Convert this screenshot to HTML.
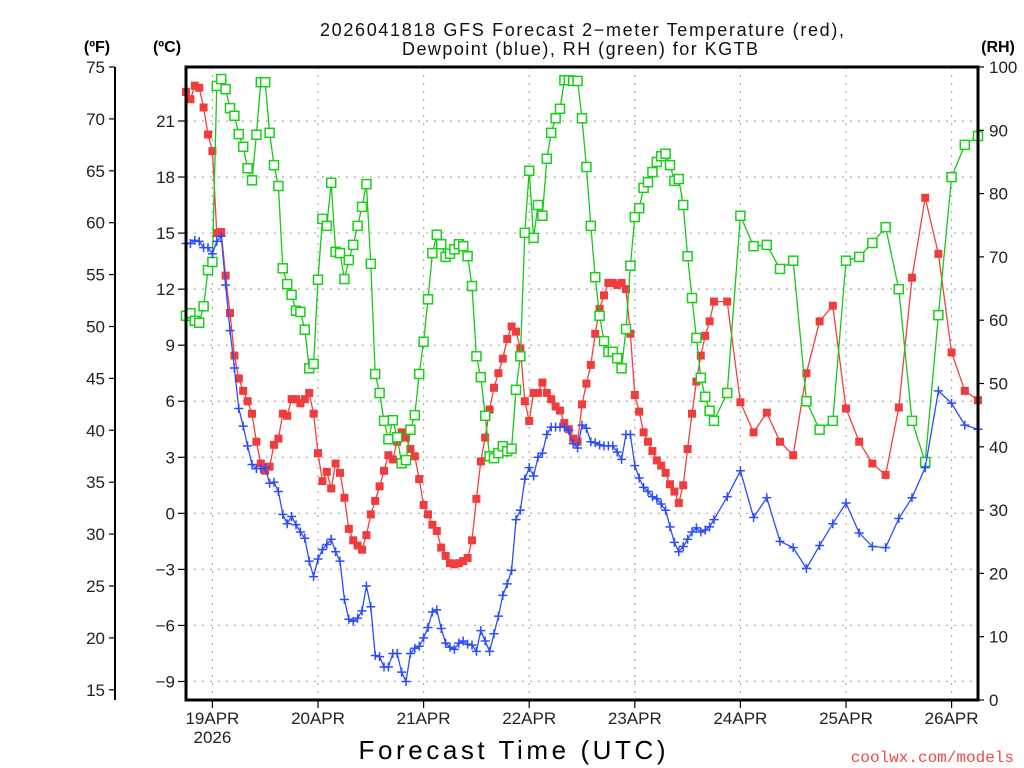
<!DOCTYPE html>
<html>
<head>
<meta charset="utf-8">
<style>
html,body{margin:0;padding:0;background:#fff;}
svg{display:block;font-family:"Liberation Sans",sans-serif;}
</style>
</head>
<body>
<svg id="chart" width="1024" height="768" viewBox="0 0 1024 768" xmlns="http://www.w3.org/2000/svg">
  <rect width="1024" height="768" fill="#fff"/>
  <text x="582" y="36" font-size="18" text-anchor="middle" textLength="524" fill="#111">2026041818 GFS Forecast 2−meter Temperature (red),</text>
  <text x="580" y="55" font-size="18" text-anchor="middle" textLength="356" fill="#111">Dewpoint (blue), RH (green) for KGTB</text>
  <text x="97" y="52" font-size="16" font-weight="bold" text-anchor="middle">(ºF)</text>
  <text x="167" y="52" font-size="16" font-weight="bold" text-anchor="middle">(ºC)</text>
  <text x="998" y="52" font-size="16" font-weight="bold" text-anchor="middle">(RH)</text>
  <g id="grid"></g>
  <g id="axes"></g>
  <g id="series"></g>
  <rect x="186" y="67" width="792" height="633" fill="none" stroke="#000" stroke-width="3"/>
  <text x="512" y="759" font-size="26" text-anchor="middle" textLength="307">Forecast Time (UTC)</text>
  <text x="1014" y="762" font-size="16" text-anchor="end" fill="#f04848" font-family="Liberation Mono, monospace">coolwx.com/models</text>
</svg>
<script>
const hours = [0,1,2,3,4,5,6,7,8,9,10,11,12,13,14,15,16,17,18,19,20,21,22,23,24,25,26,27,28,29,30,31,32,33,34,35,36,37,38,39,40,41,42,43,44,45,46,47,48,49,50,51,52,53,54,55,56,57,58,59,60,61,62,63,64,65,66,67,68,69,70,71,72,73,74,75,76,77,78,79,80,81,82,83,84,85,86,87,88,89,90,91,92,93,94,95,96,97,98,99,100,101,102,103,104,105,106,107,108,109,110,111,112,113,114,115,116,117,118,119,120,123,126,129,132,135,138,141,144,147,150,153,156,159,162,165,168,171,174,177,180];
const tempF = [72.6,71.9,73.2,73.0,71.1,68.5,66.9,59.0,59.1,54.9,51.3,47.2,45.0,43.8,42.8,41.6,38.9,36.8,36.1,36.5,38.6,39.2,41.6,41.4,43.0,43.0,42.6,43.0,43.6,41.6,37.8,35.1,36.0,34.4,36.8,35.9,33.5,30.5,29.4,28.9,28.5,29.9,31.9,33.2,34.6,36.1,37.6,37.2,38.9,39.8,39.3,38.2,37.5,35.3,32.8,31.9,30.9,30.3,28.7,27.9,27.2,27.1,27.2,27.4,27.7,29.4,33.4,37.0,39.3,42.0,44.1,45.5,46.9,48.8,50.0,49.5,47.9,42.8,40.9,43.6,43.6,44.6,43.6,43.0,42.3,41.9,40.7,40.1,39.2,38.9,42.5,44.5,46.3,49.3,51.7,53.0,54.2,54.2,54.0,54.2,53.6,49.3,43.4,41.8,39.8,38.9,38.0,37.1,36.6,35.9,34.8,34.1,33.0,34.7,38.2,41.6,44.7,47.2,49.1,50.5,52.4,52.4,42.7,39.8,41.7,38.9,37.6,45.5,50.5,52.0,42.1,38.9,36.8,35.7,42.2,54.7,62.4,57.0,47.5,43.8,42.9];
const dewF = [58.0,58.0,58.3,58.2,57.6,57.6,57.0,58.2,58.7,54.0,49.6,46.0,42.1,40.4,38.5,36.7,36.3,36.3,36.4,34.9,35.0,34.1,31.9,31.0,31.7,30.9,30.2,29.6,27.4,25.9,27.6,28.5,29.0,29.5,28.3,27.4,23.7,21.8,21.6,21.9,22.6,25.0,23.0,18.3,18.2,17.2,17.2,18.5,18.5,16.7,15.8,18.5,19.0,19.2,20.0,21.0,22.5,22.7,20.9,19.5,19.1,18.9,19.5,19.7,19.4,19.3,18.7,20.7,19.7,18.7,20.4,22.1,24.1,25.2,26.5,31.4,32.3,35.3,36.4,35.6,37.4,37.8,39.6,40.3,40.3,40.3,40.3,40.0,38.7,38.3,40.5,40.2,38.9,38.8,38.6,38.5,38.5,38.5,37.9,37.2,39.6,39.6,36.6,35.4,34.5,34.1,33.6,33.4,32.9,32.3,30.7,29.2,28.3,28.8,29.5,30.2,30.6,30.2,30.4,30.7,31.4,33.6,36.1,31.6,33.5,29.3,28.7,26.7,28.9,31.0,33.0,30.1,28.8,28.7,31.5,33.5,36.4,43.8,42.6,40.5,40.1];
const rhPct = [60.7,61.1,59.9,59.6,62.2,67.9,69.2,97.0,98.1,96.5,93.5,92.3,89.4,87.4,84.0,82.1,89.3,97.6,97.6,89.6,84.5,81.2,68.2,65.7,64.0,61.5,61.3,58.5,52.4,53.1,66.4,76.0,74.9,81.7,70.8,70.6,66.5,69.5,71.9,74.9,77.9,81.5,68.9,51.5,48.5,44.1,41.2,44.2,41.5,37.4,37.9,42.7,45.0,51.5,56.6,63.3,70.6,73.5,72.0,70.0,70.5,71.2,72.0,71.7,70.1,65.4,54.3,51.0,44.9,38.5,38.2,39.0,40.1,39.3,39.7,49.0,54.3,73.8,83.6,73.0,78.2,76.5,85.5,89.6,91.9,93.4,97.9,97.9,97.8,97.8,91.9,84.2,74.9,66.8,60.7,56.7,55.0,55.0,54.0,52.4,58.6,68.6,76.3,77.7,80.9,81.8,83.4,85.0,85.9,86.3,84.5,82.0,82.3,78.2,70.1,63.5,57.2,50.9,47.9,45.7,44.1,48.5,76.5,71.7,71.9,68.1,69.4,47.2,42.7,44.1,69.4,70.0,72.2,74.7,64.9,44.1,37.6,60.8,82.6,87.7,89.1];
const fTicks = [15,20,25,30,35,40,45,50,55,60,65,70,75];
const cTicks = [-9,-6,-3,0,3,6,9,12,15,18,21];
const rhTicks = [0,10,20,30,40,50,60,70,80,90,100];
const dayLabels = ["19APR","20APR","21APR","22APR","23APR","24APR","25APR","26APR"];
const dayHours = [6,30,54,78,102,126,150,174];

const NS = "http://www.w3.org/2000/svg";
const X0 = 186, X1 = 978, Y0 = 67, Y1 = 700, HMAX = 180;
function xScale(h){ return X0 + h * (X1 - X0) / HMAX; }
function yF(f){ return Y0 + (75 - f) * 10.38; }
function yC(c){ return yF(c * 9 / 5 + 32); }
function yRH(r){ return Y1 - r * (Y1 - Y0) / 100; }
function mk(tag, attrs, parent){
  const e = document.createElementNS(NS, tag);
  for (const k in attrs) e.setAttribute(k, attrs[k]);
  parent.appendChild(e);
  return e;
}
const grid = document.getElementById('grid');
const axes = document.getElementById('axes');
const series = document.getElementById('series');

cTicks.forEach(c => {
  const y = yC(c);
  const g = mk('line', {x1:X0, x2:X1, y1:y, y2:y, stroke:'#aaa', 'stroke-width':1.2, 'stroke-dasharray':'2,6'}, grid);
  
  
  const t = mk('line', {x1:X0-8, x2:X0, y1:y, y2:y, stroke:'#000', 'stroke-width':1.2}, axes);
  
  
  const l = mk('text', {x:X0-11, y:y+6, 'font-size':17, 'text-anchor':'end', fill:'#222'}, axes);
  l.textContent = c < 0 ? '−' + Math.abs(c) : String(c);
  
  
});
dayHours.forEach((h, i) => {
  const x = xScale(h);
  const g = mk('line', {x1:x, x2:x, y1:Y0, y2:Y1, stroke:'#aaa', 'stroke-width':1.2, 'stroke-dasharray':'2,6'}, grid);
  
  
  const t = mk('line', {x1:x, x2:x, y1:Y1, y2:Y1+8, stroke:'#000', 'stroke-width':1.2}, axes);
  
  
  const l = mk('text', {x:x, y:724, 'font-size':17, 'text-anchor':'middle', fill:'#222'}, axes);
  l.textContent = dayLabels[i];
  
  
});
const yr = mk('text', {x:xScale(dayHours[0]), y:743, 'font-size':17, 'text-anchor':'middle', fill:'#222'}, axes);
yr.textContent = '2026';



const fl = mk('line', {x1:115, x2:115, y1:Y0, y2:Y1, stroke:'#000', 'stroke-width':2}, axes);


fTicks.forEach(f => {
  const y = yF(f);
  const t = mk('line', {x1:109, x2:115, y1:y, y2:y, stroke:'#000', 'stroke-width':1.2}, axes);
  
  
  const l = mk('text', {x:105, y:y+6, 'font-size':17, 'text-anchor':'end', fill:'#222'}, axes);
  l.textContent = String(f);
  
  
});
rhTicks.forEach(r => {
  const y = yRH(r);
  const t = mk('line', {x1:X1, x2:X1+6, y1:y, y2:y, stroke:'#000', 'stroke-width':1.2}, axes);
  
  
  const l = mk('text', {x:989, y:y+6, 'font-size':17, 'text-anchor':'start', fill:'#222'}, axes);
  l.textContent = String(r);
  
  
});

function pts(vals, yfn){ return vals.map((v, i) => [xScale(hours[i]), yfn(v)]); }
const tp = pts(tempF, yF);
const tl = mk('polyline', {points: tp.map(p => p.join(',')).join(' '), fill:'none', stroke:'#f04040', 'stroke-width':1.3}, series);


tp.forEach(p => {
  const m = mk('rect', {x:p[0]-4, y:p[1]-4, width:8, height:8, fill:'#f03c3c'}, series);
  
  
});
const rp = pts(rhPct, yRH);
const rl = mk('polyline', {points: rp.map(p => p.join(',')).join(' '), fill:'none', stroke:'#18c818', 'stroke-width':1.3}, series);


rp.forEach(p => {
  const m = mk('rect', {x:p[0]-4.5, y:p[1]-4.5, width:9, height:9, fill:'#fff', stroke:'#18d018', 'stroke-width':1.5}, series);
  
  
});
const dp = pts(dewF, yF);
const dl = mk('polyline', {points: dp.map(p => p.join(',')).join(' '), fill:'none', stroke:'#2a4cff', 'stroke-width':1.3}, series);


dp.forEach(p => {
  const m = mk('path', {d:`M${p[0]-4.5},${p[1]}H${p[0]+4.5}M${p[0]},${p[1]-4.5}V${p[1]+4.5}`, stroke:'#2a4cff', 'stroke-width':1.5, fill:'none'}, series);
  
  
});
</script>
</body>
</html>
